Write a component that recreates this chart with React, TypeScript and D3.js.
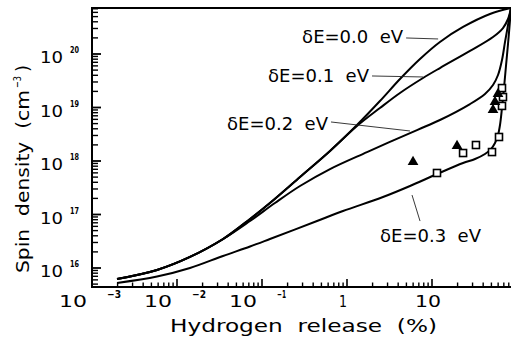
import React from 'react';
import * as d3 from 'd3';

type P = [number, number];

// x: hydrogen release (%), y: spin density (cm^-3)
const xDecades = [-3, -2, -1, 0, 1];
const yDecades = [16, 17, 18, 19, 20];
const xTickLabels = ['10|-3', '10|-2', '10|-1', '1', '10'];
const yTickLabels = ['10|16', '10|17', '10|18', '10|19', '10|20'];

const curveE00: P[] = [
  [0.00197, 6.22e15], [0.00582, 9.18e15], [0.01422, 1.61e16], [0.0348, 3.48e16],
  [0.0723, 8.24e16], [0.124, 1.64e17], [0.28, 5.02e17], [0.631, 1.54e18],
  [1.31, 4.71e18], [2.44, 1.32e19], [4.2, 3.41e19], [7.22, 8.07e19],
  [12.4, 1.68e20], [23.2, 3.2e20], [48.1, 5.6e20], [85, 7.24e20],
];
const curveE01: P[] = [
  [0.00197, 6.22e15], [0.00582, 9.18e15], [0.01422, 1.61e16], [0.0348, 3.48e16],
  [0.0723, 8.24e16], [0.124, 1.64e17], [0.28, 5.02e17], [0.631, 1.54e18],
  [1.31, 4.51e18], [2.44, 9.79e18], [4.2, 1.87e19], [7.84, 3.56e19],
  [12.4, 5.47e19], [28.0, 1.14e20], [52.2, 2.08e20], [68.4, 3.06e20],
  [78.4, 4.51e20], [85, 7.24e20],
];
const curveE02: P[] = [
  [0.00197, 6.22e15], [0.00582, 9.18e15], [0.01422, 1.61e16], [0.0348, 3.48e16],
  [0.0723, 7.57e16], [0.142, 1.64e17], [0.28, 3.41e17], [0.631, 7.08e17],
  [1.72, 1.47e18], [6.66, 3.79e18], [12.4, 5.84e18], [28.0, 1.16e19],
  [42.0, 1.79e19], [52.2, 2.64e19], [59.8, 4.05e19], [66.6, 7.72e19],
  [72.3, 1.68e20], [78.4, 3.48e20], [85, 7.24e20],
];
const curveE03: P[] = [
  [0.00197, 5.25e15], [0.00582, 6.93e15], [0.01422, 1.0e16], [0.0348, 1.68e16],
  [0.0723, 2.52e16], [0.124, 3.48e16], [0.444, 7.57e16], [0.897, 1.16e17],
  [2.65, 2.12e17], [5.51, 3.41e17], [11.45, 5.71e17], [23.2, 9.18e17],
  [32.1, 1.09e18], [42.0, 1.35e18], [49.4, 1.67e18], [55.1, 2.17e18],
  [59.8, 3.06e18], [63.1, 4.71e18], [66.6, 9.79e18], [70.3, 2.31e19],
  [74.2, 5.97e19], [78.4, 1.54e20], [82.8, 4.33e20], [85, 7.24e20],
];

const triangles: P[] = [
  [5.98, 9.57e17], [19.7, 1.91e18], [52.2, 8.98e18], [55.1, 1.27e19], [59.8, 1.79e19],
];
const squares: P[] = [
  [11.45, 5.97e17], [23.2, 1.41e18], [32.9, 1.99e18], [50.8, 1.47e18], [61.4, 2.81e18],
  [66.6, 2.31e19], [68.4, 1.57e19], [66.6, 1.07e19],
];

const annLabels = ['δE=0.0  eV', 'δE=0.1  eV', 'δE=0.2  eV', 'δE=0.3  eV'];
const annPoints: P[] = [[11.8, 1.91e20], [7.84, 3.72e19], [5.51, 3.64e18], [5.82, 2.31e17]];

export default function App() {
  const left = 92, right = 511, top = 8, bottom = 287;
  const x = d3.scaleLog().domain([1e-3, 100]).range([92, 517]);
  const y = d3.scaleLog().domain([1e16, 1e20]).range([268, 54]);
  const line = d3.line<P>().x(d => x(d[0])).y(d => y(d[1])).curve(d3.curveCatmullRom.alpha(0.5));
  const font = "'DejaVu Sans', 'Liberation Sans', sans-serif";

  const xMinor: number[] = [];
  for (let p = -3; p <= 1; p++) for (let k = 2; k <= 9; k++) {
    const px = x(k * Math.pow(10, p));
    if (px < right) xMinor.push(px);
  }
  const yMinor: number[] = [];
  for (let p = 15; p <= 20; p++) for (let k = 2; k <= 9; k++) {
    const py = y(k * Math.pow(10, p));
    if (py > top && py < bottom) yMinor.push(py);
  }

  const tri = d3.symbol(d3.symbolTriangle, 50)();
  const curves = [curveE00, curveE01, curveE02, curveE03];
  const leaders: P[] = [[-32, -1], [-51, -1], [-79, -9], [8, 26]];
  const textOff: P[] = [[-136, 4], [-155, 5], [-183, -1], [-32, 47]];

  return (
    <svg width={511} height={345} style={{ position: 'absolute', left: 0, top: 0, background: '#fff' }}
      fontFamily={font}>
      <defs>
        <clipPath id="plot"><rect x={left} y={top} width={right - left} height={bottom - top} /></clipPath>
      </defs>
      {/* frame */}
      <path d={`M${right},${top}H${left}V${bottom}H${right}`} fill="none" stroke="#000" strokeWidth={2} />
      {/* x ticks */}
      {xMinor.map((px, i) => <line key={'xm' + i} x1={px} x2={px} y1={bottom} y2={bottom - 4.5} stroke="#000" strokeWidth={1.4} />)}
      {xDecades.map((p, i) => <line key={'xM' + i} x1={x(Math.pow(10, p))} x2={x(Math.pow(10, p))} y1={bottom} y2={bottom - 8} stroke="#000" strokeWidth={1.6} />)}
      {/* y ticks */}
      {yMinor.map((py, i) => <line key={'ym' + i} x1={left} x2={left + 6} y1={py} y2={py} stroke="#000" strokeWidth={1.4} />)}
      {yDecades.map((p, i) => <line key={'yM' + i} x1={left} x2={left + 9} y1={y(Math.pow(10, p))} y2={y(Math.pow(10, p))} stroke="#000" strokeWidth={1.8} />)}

      {/* x tick labels */}
      {xDecades.map((p, i) => {
        const cx = x(Math.pow(10, p));
        const [base, sup] = xTickLabels[i].split('|');
        if (!sup) {
          return <text key={'xl' + i} x={cx - 4} y={307} fontSize={16} textAnchor="middle"
            textLength={base.length > 1 ? 26 : 8} lengthAdjust="spacingAndGlyphs">{base}</text>;
        }
        return (
          <g key={'xl' + i}>
            <text x={cx - 33} y={307} fontSize={16} textLength={28} lengthAdjust="spacingAndGlyphs">{base}</text>
            <text x={cx + 15} y={298} fontSize={10} fontWeight="bold" textLength={p === -1 ? 9 : 14} lengthAdjust="spacingAndGlyphs">{sup.replace('-', '−')}</text>
          </g>
        );
      })}
      {/* y tick labels */}
      {yDecades.map((p, i) => {
        const cy = y(Math.pow(10, p));
        const [base, sup] = yTickLabels[i].split('|');
        return (
          <g key={'yl' + i}>
            <text x={40} y={cy + 9} fontSize={16} textLength={23} lengthAdjust="spacingAndGlyphs">{base}</text>
            <text x={70} y={cy - 1} fontSize={8} fontWeight="bold" textLength={9} lengthAdjust="spacingAndGlyphs">{sup}</text>
          </g>
        );
      })}

      {/* axis titles */}
      <text x={170} y={332} fontSize={18} textLength={267} lengthAdjust="spacingAndGlyphs" style={{ whiteSpace: 'pre' }}>Hydrogen  release  (%)</text>
      <g transform="translate(29,273) rotate(-90)">
        <text x={0} y={0} fontSize={18} textLength={183} lengthAdjust="spacingAndGlyphs" style={{ whiteSpace: 'pre' }}>Spin  density  (cm</text>
        <text x={185} y={-8} fontSize={11} textLength={12} lengthAdjust="spacingAndGlyphs">−3</text>
        <text x={201} y={0} fontSize={18} textLength={7} lengthAdjust="spacingAndGlyphs">)</text>
      </g>

      {/* curves */}
      <g clipPath="url(#plot)">
        {curves.map((c, i) => <path key={'c' + i} d={line(c) || ''} fill="none" stroke="#000" strokeWidth={2} />)}
      </g>

      {/* data points */}
      {squares.map((d, i) => <rect key={'s' + i} x={x(d[0]) - 3.5} y={y(d[1]) - 3.5} width={7} height={7} fill="#fff" stroke="#000" strokeWidth={1.6} />)}
      {triangles.map((d, i) => <path key={'t' + i} d={tri || ''} transform={`translate(${x(d[0])},${y(d[1])})`} fill="#000" />)}

      {/* annotations */}
      {annPoints.map((d, i) => {
        const px = x(d[0]), py = y(d[1]);
        return (
          <g key={'a' + i}>
            <line x1={px} y1={py} x2={px + leaders[i][0]} y2={py + leaders[i][1]} stroke="#222" strokeWidth={0.9} />
            <text x={px + textOff[i][0]} y={py + textOff[i][1]} fontSize={17} textLength={101} lengthAdjust="spacingAndGlyphs" style={{ whiteSpace: 'pre' }}>{annLabels[i]}</text>
          </g>
        );
      })}
    </svg>
  );
}
